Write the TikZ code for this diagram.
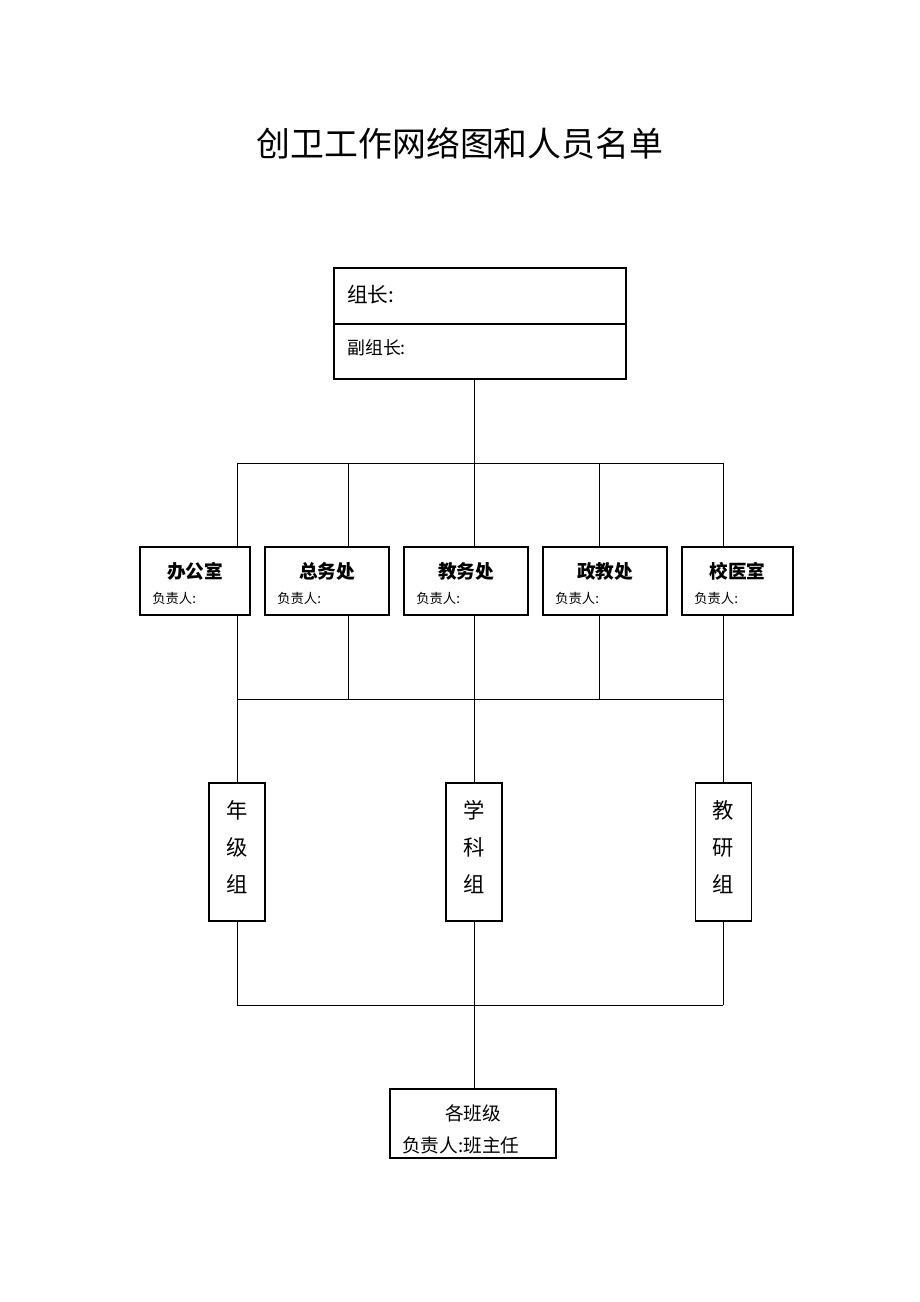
\documentclass[tikz,border=0pt]{standalone}
\usepackage{fontspec}
\setmainfont{Noto Sans CJK SC}
\usetikzlibrary{positioning}
\tikzset{
  box/.style={draw, line width=0.8pt, inner sep=0pt},
  link/.style={line width=0.6pt},
  txt/.style={inner sep=0pt, anchor=west},
}
\begin{document}
\begin{tikzpicture}[x=0.75pt, y=-0.75pt]
        \useasboundingbox (0,0) rectangle (920,1302);
        \node (title) at (460,143) {\fontsize{25.4}{30}\selectfont 创卫工作网络图和人员名单};
        % leaders
        \node[box, minimum width=219pt, minimum height=83.25pt] (lead) at (480,323.5) {};
        \coordinate (mid) at (334,324);
        \draw[box] (lead.west |- mid) -- (lead.east |- mid);
        \node[txt] (zz) at (347,295) {\fontsize{15.5}{18}\selectfont 组长:};
        \node[txt] (fzz) at (347,348) {\fontsize{13.4}{15}\selectfont 副组长:};
        % bars
        \coordinate (b1a) at (237,463);
        \coordinate (b1b) at (348,463);
        \coordinate (b1c) at (474,463);
        \coordinate (b1d) at (599,463);
        \coordinate (b1e) at (723,463);
        \coordinate (b2a) at (237,699);
        \coordinate (b2b) at (348,699);
        \coordinate (b2c) at (474,699);
        \coordinate (b2d) at (599,699);
        \coordinate (b2e) at (723,699);
        \coordinate (b3a) at (237,1005);
        \coordinate (b3c) at (474,1005);
        \coordinate (b3e) at (723,1005);
        % offices
        \node[box, minimum width=82.5pt, minimum height=51pt] (bangong) at (195,581) {};
        \node[box, minimum width=93pt, minimum height=51pt] (zongwu) at (327,581) {};
        \node[box, minimum width=93pt, minimum height=51pt] (jiaowu) at (466,581) {};
        \node[box, minimum width=93pt, minimum height=51pt] (zhengjiao) at (605,581) {};
        \node[box, minimum width=83.25pt, minimum height=51pt] (xiaoyi) at (737.5,581) {};
        \node (bangong-t) at (195,571) {\fontsize{14}{16}\selectfont\bfseries 办公室};
        \node (zongwu-t) at (327,571) {\fontsize{14}{16}\selectfont\bfseries 总务处};
        \node (jiaowu-t) at (466,571) {\fontsize{14}{16}\selectfont\bfseries 教务处};
        \node (zhengjiao-t) at (605,571) {\fontsize{14}{16}\selectfont\bfseries 政教处};
        \node (xiaoyi-t) at (737.5,571) {\fontsize{14}{16}\selectfont\bfseries 校医室};
        \node[txt] (bangong-f) at (152,598) {\fontsize{10}{12}\selectfont 负责人:};
        \node[txt] (zongwu-f) at (277,598) {\fontsize{10}{12}\selectfont 负责人:};
        \node[txt] (jiaowu-f) at (416,598) {\fontsize{10}{12}\selectfont 负责人:};
        \node[txt] (zhengjiao-f) at (555,598) {\fontsize{10}{12}\selectfont 负责人:};
        \node[txt] (xiaoyi-f) at (694,598) {\fontsize{10}{12}\selectfont 负责人:};
        % groups
        \node[box, minimum width=42pt, minimum height=103.5pt] (nianji) at (237,852) {};
        \node[box, minimum width=42pt, minimum height=103.5pt] (xueke) at (474,852) {};
        \node[box, minimum width=42pt, minimum height=103.5pt] (jiaoyan) at (723.5,852) {};
        \node[align=center, font=\fontsize{16}{27.75}\selectfont] (nianji-t) at (237,847) {年\\级\\组};
        \node[align=center, font=\fontsize{16}{27.75}\selectfont] (xueke-t) at (474,847) {学\\科\\组};
        \node[align=center, font=\fontsize{16}{27.75}\selectfont] (jiaoyan-t) at (723.5,847) {教\\研\\组};
        % classes
        \node[box, minimum width=124.5pt, minimum height=51.75pt] (banji) at (473,1123.5) {};
        \node (banji-t) at (473,1113) {\fontsize{14}{16}\selectfont 各班级};
        \node[txt] (banji-f) at (402,1145) {\fontsize{14}{16}\selectfont 负责人:班主任};
        % links
        \draw[link] (lead.south -| b1c) -- (b1c);
        \draw[link] (b1a) -- (b1e);
        \draw[link] (b1a) -- (b1a |- bangong.north);
        \draw[link] (b1b) -- (b1b |- zongwu.north);
        \draw[link] (b1c) -- (b1c |- jiaowu.north);
        \draw[link] (b1d) -- (b1d |- zhengjiao.north);
        \draw[link] (b1e) -- (b1e |- xiaoyi.north);
        \draw[link] (bangong.south -| b2a) -- (b2a);
        \draw[link] (zongwu.south -| b2b) -- (b2b);
        \draw[link] (jiaowu.south -| b2c) -- (b2c);
        \draw[link] (zhengjiao.south -| b2d) -- (b2d);
        \draw[link] (xiaoyi.south -| b2e) -- (b2e);
        \draw[link] (b2a) -- (b2e);
        \draw[link] (b2a) -- (nianji.north);
        \draw[link] (b2c) -- (xueke.north);
        \draw[link] (b2e) -- (b2e |- jiaoyan.north);
        \draw[link] (nianji.south) -- (b3a);
        \draw[link] (xueke.south) -- (b3c);
        \draw[link] (jiaoyan.south -| b3e) -- (b3e);
        \draw[link] (b3a) -- (b3e);
        \draw[link] (b3c) -- (b3c |- banji.north);
\end{tikzpicture}
\end{document}
